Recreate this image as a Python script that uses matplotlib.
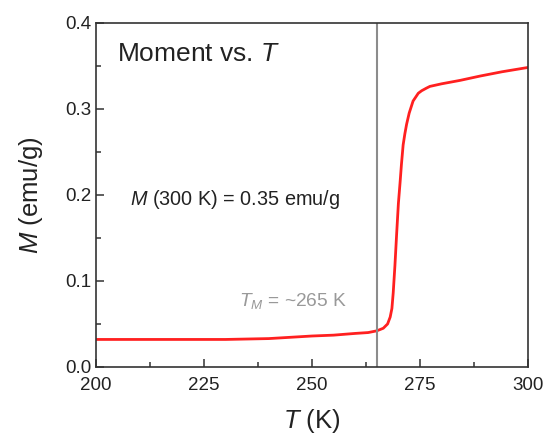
import matplotlib
matplotlib.use("Agg")
import matplotlib.pyplot as plt
from matplotlib.ticker import MultipleLocator, FormatStrFormatter

plt.rcParams["font.family"] = ["Liberation Sans", "DejaVu Sans"]
plt.rcParams["mathtext.fontset"] = "custom"
plt.rcParams["mathtext.rm"] = "Liberation Sans"
plt.rcParams["mathtext.it"] = "Liberation Sans:italic"

# values
temperature = [200, 210, 220, 230, 240, 250, 255, 260, 263, 265, 266.5, 267.5, 268.1,
               268.5, 268.8, 269.2, 269.6, 270.0, 270.4, 270.7, 271.1, 271.5, 271.9,
               272.5, 273.4, 274.6, 275.4, 276.5, 277.3, 280, 284.3, 288.9, 294, 300]
moment = [0.032, 0.032, 0.032, 0.032, 0.033, 0.036, 0.037, 0.039, 0.040, 0.042, 0.045,
          0.050, 0.058, 0.068, 0.086, 0.118, 0.155, 0.190, 0.215, 0.235, 0.258, 0.271,
          0.282, 0.295, 0.309, 0.318, 0.321, 0.324, 0.326, 0.329, 0.333, 0.338, 0.343, 0.348]
t_m = 265

fig = plt.figure(figsize=(5.45, 4.34), dpi=100)
ax = fig.add_axes([0.1761, 0.1544, 0.7927, 0.7933])

ax.plot(temperature, moment, color="#ff2020", linewidth=2.0)
ax.axvline(t_m, color="#8c8c8c", linewidth=1.5)

ax.set_xlim(200, 300)
ax.set_ylim(0.0, 0.4)
ax.xaxis.set_major_locator(MultipleLocator(25))
ax.xaxis.set_minor_locator(MultipleLocator(12.5))
ax.yaxis.set_major_locator(MultipleLocator(0.1))
ax.yaxis.set_minor_locator(MultipleLocator(0.05))
ax.yaxis.set_major_formatter(FormatStrFormatter("%.1f"))
ax.tick_params(which="both", direction="in", colors="#333333", labelcolor="#222222")
ax.tick_params(which="major", length=6, width=1.1, labelsize=13.5)
ax.tick_params(which="minor", length=3.5, width=1.1)
ax.tick_params(axis="x", pad=7.5)
for spine in ax.spines.values():
    spine.set_color("#333333")
    spine.set_linewidth(1.2)

ax.set_xlabel(r"$T$ (K)", fontsize=18.5, color="#222222", labelpad=9)
ax.set_ylabel(r"$M$ (emu/g)", fontsize=18.5, color="#222222", labelpad=14)

ax.text(204.8, 0.3636, r"Moment vs. $T$", fontsize=19, color="#222222", va="center")
ax.text(207.9, 0.1948, r"$M$ (300 K) = 0.35 emu/g", fontsize=14.3, color="#222222", va="center")
ax.text(258.2, 0.077, r"$T_M$ = ~265 K", fontsize=13.8, color="#999999", va="center", ha="right")

fig.savefig("out.png", dpi=100)
